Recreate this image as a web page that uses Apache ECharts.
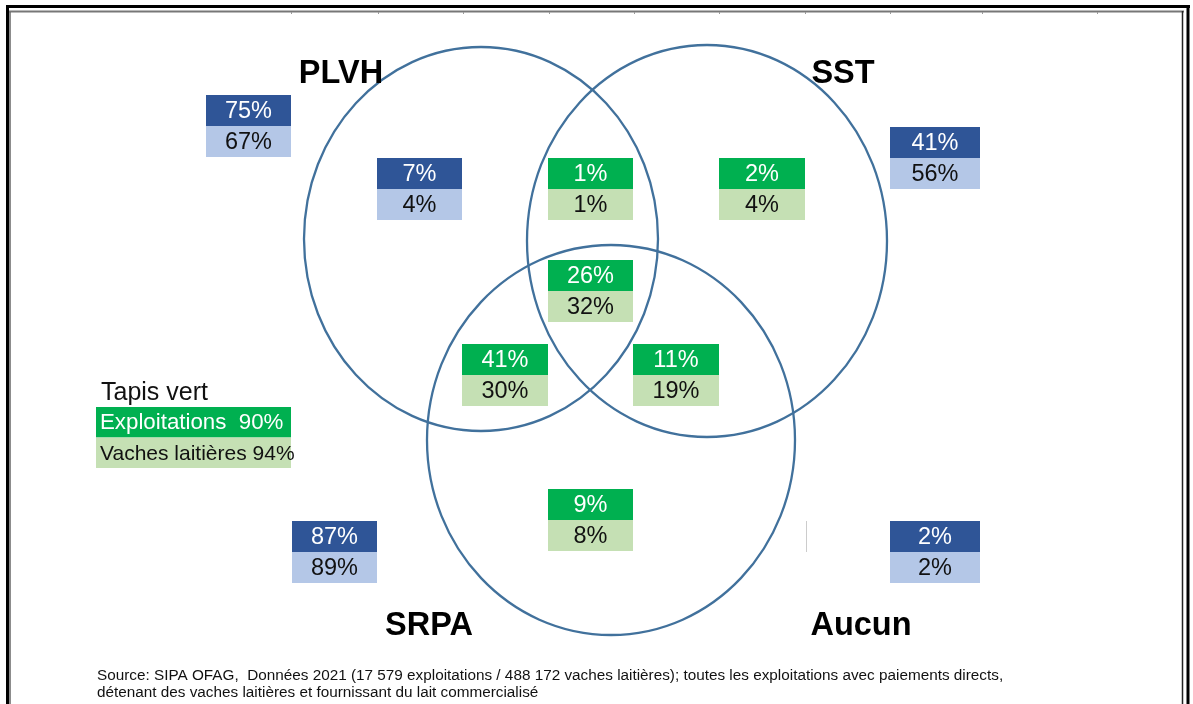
<!DOCTYPE html>
<html><head><meta charset="utf-8">
<script src="https://cdn.jsdelivr.net/npm/echarts@6/dist/echarts.min.js"></script>
<style>html,body{margin:0;padding:0;background:#fff}#c{width:1193px;height:704px}</style>
</head><body><div id="c"></div>
<script>
// ---- data ----
const setNames = ['PLVH', 'SST', 'SRPA', 'Aucun'];
const boxNames = ['PLVH total', 'SST total', 'SRPA total', 'Aucun', 'PLVH seul', 'PLVH + SST', 'SST seul', 'PLVH + SST + SRPA', 'PLVH + SRPA', 'SST + SRPA', 'SRPA seul'];
const exploitations = [75, 41, 87, 2, 7, 1, 2, 26, 41, 11, 9];
const vaches = [67, 56, 89, 2, 4, 1, 4, 32, 30, 19, 8];
const boxKind = ['total', 'total', 'total', 'total', 'total', 'inter', 'inter', 'inter', 'inter', 'inter', 'inter'];
const legendTitle = 'Tapis vert';
const legendLabels = ['Exploitations', 'Vaches laitières'];
const legendValues = [90, 94];
const sourceLines = [
  'Source: SIPA OFAG,  Données 2021 (17 579 exploitations / 488 172 vaches laitières); toutes les exploitations avec paiements directs,',
  'détenant des vaches laitières et fournissant du lait commercialisé'
];

// ---- layout (pixel-space coordinates on hidden axes) ----
const boxLayout = [[206,95,85],[890,127,90],[292,521,85],[890,521,90],[377,158,85],[548,158,85],[719,158,86],[548,260,85],[462,344,86],[633,344,86],[548,489,85]];
const rowH = 31;
const ellipses = [[481,239,177,192],[707,241,180,196],[611,440,184,195]];
const setLabelPos = [[341,74],[843,74],[429,626],[861,626]];
const colors = {
  total: ['#2F5597', '#B4C7E7'],
  inter: ['#00B050', '#C5E0B4']
};
const topTicks = [291, 378, 463, 549, 634, 719, 805, 890, 982, 1097];

const boxData = boxNames.map((n, i) => [i, exploitations[i], vaches[i]]);

const chart = echarts.init(document.getElementById('c'), null, {renderer: 'canvas'});
const FONT = '"Liberation Sans", Arial, sans-serif';

const frame = [
  {type: 'line', shape: {x1: 6, y1: 6.5, x2: 1190, y2: 6.5}, style: {stroke: '#000', lineWidth: 3}},
  {type: 'line', shape: {x1: 7.5, y1: 5, x2: 7.5, y2: 704}, style: {stroke: '#000', lineWidth: 3}},
  {type: 'line', shape: {x1: 1188, y1: 5, x2: 1188, y2: 704}, style: {stroke: '#000', lineWidth: 3}},
  {type: 'line', shape: {x1: 9, y1: 11.5, x2: 1184, y2: 11.5}, style: {stroke: '#777', lineWidth: 2}},
  {type: 'line', shape: {x1: 10, y1: 12, x2: 10, y2: 704}, style: {stroke: '#666', lineWidth: 1.5}},
  {type: 'line', shape: {x1: 1182.5, y1: 11, x2: 1182.5, y2: 704}, style: {stroke: '#222', lineWidth: 1.5}},
  {type: 'line', shape: {x1: 806.5, y1: 521, x2: 806.5, y2: 552}, style: {stroke: '#ccc', lineWidth: 1}},
  {type: 'text', left: 97, top: 667, style: {text: sourceLines.join('\n'), fill: '#111', font: '15.3px "Liberation Sans", Arial, sans-serif', lineHeight: 17}}
];
topTicks.forEach(x => frame.push({type: 'line', shape: {x1: x + 0.5, y1: 12, x2: x + 0.5, y2: 14}, style: {stroke: '#999', lineWidth: 1}}));

chart.setOption({
  animation: false,
  backgroundColor: '#fff',
  grid: {left: 0, top: 0, width: 1193, height: 704},
  xAxis: {type: 'value', min: 0, max: 1193, show: false},
  yAxis: {type: 'value', min: 0, max: 704, inverse: true, show: false},
  series: [
    {
      type: 'custom',
      name: 'cercles',
      data: ellipses.map((e, i) => [i]),
      renderItem: function (params, api) {
        const e = ellipses[api.value(0)];
        const c = api.coord([e[0], e[1]]);
        const s = api.size([e[2], e[3]]);
        return {
          type: 'ellipse',
          shape: {cx: c[0], cy: c[1], rx: s[0], ry: s[1]},
          style: {fill: 'none', stroke: '#41719C', lineWidth: 2.3}
        };
      },
      z: 5
    },
    {
      type: 'custom',
      name: 'boites',
      data: boxData,
      renderItem: function (params, api) {
        const i = api.value(0);
        const L = boxLayout[i];
        const p = api.coord([L[0], L[1]]);
        const sz = api.size([L[2], rowH]);
        const col = colors[boxKind[i]];
        return {
          type: 'group',
          children: [
            {type: 'rect', shape: {x: p[0], y: p[1], width: sz[0], height: sz[1]}, style: {fill: col[0]}},
            {type: 'rect', shape: {x: p[0], y: p[1] + sz[1], width: sz[0], height: sz[1]}, style: {fill: col[1]}},
            {type: 'text', style: {text: api.value(1) + '%', x: p[0] + sz[0] / 2, y: p[1] + sz[1] / 2 + 1, align: 'center', verticalAlign: 'middle', fill: '#fff', font: '23.5px ' + FONT}},
            {type: 'text', style: {text: api.value(2) + '%', x: p[0] + sz[0] / 2, y: p[1] + sz[1] * 1.5 + 1, align: 'center', verticalAlign: 'middle', fill: '#111', font: '23.5px ' + FONT}}
          ]
        };
      },
      z: 4
    },
    {
      type: 'custom',
      name: 'ensembles',
      data: setNames.map((n, i) => [i]),
      renderItem: function (params, api) {
        const i = api.value(0);
        const q = api.coord(setLabelPos[i]);
        return {type: 'text', style: {text: setNames[i], x: q[0], y: q[1], align: 'center', verticalAlign: 'middle', fill: '#000', font: 'bold 32.5px ' + FONT}};
      },
      z: 6
    },
    {
      type: 'custom',
      name: 'legende',
      data: legendValues.map((v, i) => [i, v]),
      renderItem: function (params, api) {
        const i = api.value(0);
        const p = api.coord([96, 407 + i * 30.5]);
        const sz = api.size([195, 30.5]);
        const children = [
          {type: 'rect', shape: {x: p[0], y: p[1], width: sz[0], height: sz[1]}, style: {fill: i === 0 ? '#00B050' : '#C5E0B4'}},
          {type: 'text', style: {text: legendLabels[i] + (i === 0 ? '  ' : ' ') + api.value(1) + '%', x: p[0] + 4, y: p[1] + sz[1] / 2 + 1, align: 'left', verticalAlign: 'middle', fill: i === 0 ? '#fff' : '#111', font: (i === 0 ? '22.3px ' : '21px ') + FONT}}
        ];
        if (i === 0) {
          const t = api.coord([101, 393]);
          children.push({type: 'text', style: {text: legendTitle, x: t[0], y: t[1], align: 'left', verticalAlign: 'middle', fill: '#111', font: '25px ' + FONT}});
        }
        return {type: 'group', children: children};
      },
      z: 6
    }
  ],
  graphic: frame
});
</script></body></html>
